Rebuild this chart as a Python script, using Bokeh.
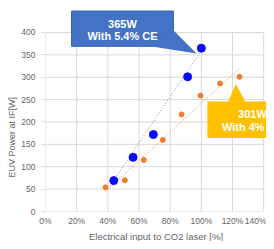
from bokeh.plotting import figure
from bokeh.models import Range1d, FixedTicker, Title
from bokeh.embed import file_html
from bokeh.resources import INLINE
from bokeh.core.properties import value

# ---- data ----
blue_x = [43.8, 56.2, 69.2, 91.2, 100.0]
blue_y = [69, 121, 172, 301, 365]
orange_x = [38.5, 50.9, 63.1, 75.3, 87.3, 99.5, 112.0, 124.5]
orange_y = [54, 70, 115, 160, 217, 259, 286, 301]
blue_trend_x = [41.5, 99.5]
blue_trend_y = [58, 357]
orange_trend_x = [38.5, 124.0]
orange_trend_y = [45, 318]
x_ticks = [0, 20, 40, 60, 80, 100, 120, 140]
x_tick_labels = ["0%", "20%", "40%", "60%", "80%", "100%", "120%", "140%"]
y_ticks = [0, 50, 100, 150, 200, 250, 300, 350, 400]
blue_callout = ["365W", "With 5.4% CE"]
orange_callout = ["301W", "With 4% CE"]

FONT = "Liberation Sans"
TXT = "#666666"
GRID = "#d9d9d9"

p = figure(width=266, height=241, output_backend="svg", toolbar_location=None,
           x_range=Range1d(0, 141.8), y_range=Range1d(0, 471.5),
           min_border_left=45, min_border_right=0, min_border_top=0,
           min_border_bottom=26)
p.outline_line_color = None
p.grid.visible = False

# grid lines
p.segment(x0=[0] * len(y_ticks), x1=[x_ticks[-1]] * len(y_ticks), y0=y_ticks, y1=y_ticks,
          line_color=GRID, line_width=1)
p.segment(x0=x_ticks, x1=x_ticks, y0=[0] * len(x_ticks), y1=[y_ticks[-1]] * len(x_ticks),
          line_color=GRID, line_width=1)

# axes
p.xaxis.ticker = FixedTicker(ticks=x_ticks)
p.xaxis.major_label_overrides = dict(zip(x_ticks, x_tick_labels))
p.yaxis.ticker = FixedTicker(ticks=y_ticks)
for ax in (p.xaxis, p.yaxis):
    ax.axis_line_color = None
    ax.minor_tick_line_color = None
    ax.major_label_text_font = FONT
    ax.major_label_text_font_size = "8.5px"
    ax.major_label_text_color = TXT
p.xaxis.major_tick_line_color = None
p.xaxis.major_tick_out = 0
p.xaxis.major_label_standoff = 4
p.yaxis.major_tick_line_color = GRID
p.yaxis.major_tick_in = 0
p.yaxis.major_tick_out = 4
p.yaxis.major_label_standoff = 6

# axis titles
p.add_layout(Title(text="Electrical input to CO2 laser [%]", align="center",
                   standoff=0, text_font=FONT, text_font_size="9.5px",
                   text_font_style="normal", text_color=TXT), "below")
p.add_layout(Title(text="EUV Power at IF[W]", align="left", offset=34,
                   standoff=4, text_font=FONT, text_font_size="9px",
                   text_font_style="normal", text_color=TXT), "left")

# trend lines
p.line(blue_trend_x, blue_trend_y, line_color="#6d8fc9", line_width=1, line_dash="1 2")
p.line(orange_trend_x, orange_trend_y, line_color="#ED7D31", line_width=1, line_dash="1 2")

# points
p.scatter(orange_x, orange_y, size=5, color="#ED7D31")
p.scatter(blue_x, blue_y, size=8, color="#0a0aff")

# callouts
p.quad(left=16.7, right=82.1, bottom=369, top=448, fill_color="#4472C4", line_color="#3a64b0")
p.patch([67.3, 81.9, 96.9], [369.5, 405.7, 353], fill_color="#4472C4", line_color=None)
p.text(x=[49.4, 49.4], y=[419.5, 392.5], text=blue_callout, text_font=value(FONT),
       text_font_size="11px", text_font_style="bold", text_color="white",
       text_align="center", text_baseline="middle")

p.quad(left=103.9, right=165, bottom=164.5, top=245.6, fill_color="#FFC000", line_color=None)
p.patch([117.2, 128.3, 122.1], [245.5, 245.5, 285], fill_color="#FFC000", line_color=None)
p.text(x=[132.8, 132.8], y=[217, 188], text=orange_callout, text_font=value(FONT),
       text_font_size="11px", text_font_style="bold", text_color="white",
       text_align="center", text_baseline="middle")

open("out.html", "w").write(file_html(p, INLINE))
